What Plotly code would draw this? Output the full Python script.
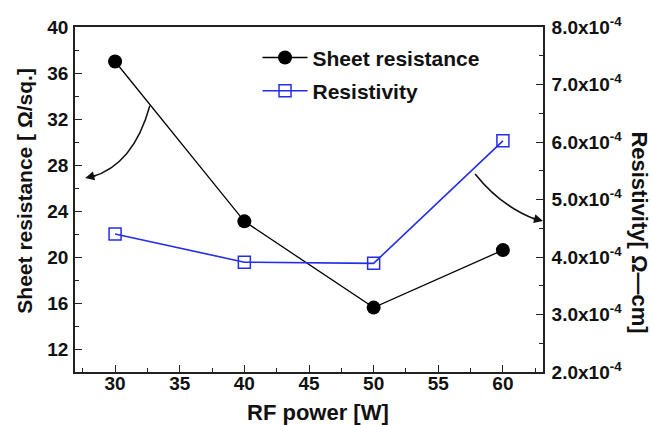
import plotly.graph_objects as go

# RF power sweep
rf_power = [30, 40, 50, 60]
sheet_resistance = [37.0, 23.1, 15.6, 20.6]          # Ω/sq.
resistivity = [4.40e-4, 3.91e-4, 3.89e-4, 6.02e-4]   # Ω-cm

left_ticks = [12, 16, 20, 24, 28, 32, 36, 40]
right_ticks = [2e-4, 3e-4, 4e-4, 5e-4, 6e-4, 7e-4, 8e-4]
right_ticktext = ["%.1fx10<sup>-4</sup>" % (v * 1e4) for v in right_ticks]

FONT = "Liberation Sans, Arial, sans-serif"
BLUE = "rgb(35,45,235)"
INK = "#111"

fig = go.Figure()
fig.add_trace(go.Scatter(
    x=rf_power, y=sheet_resistance, name="Sheet resistance",
    legendgroup="rs", mode="lines+markers",
    line=dict(color="black", width=1.3),
    marker=dict(symbol="circle", size=14, color="black"),
))
fig.add_trace(go.Scatter(
    x=rf_power, y=resistivity, name="Resistivity", yaxis="y2",
    legendgroup="rho", mode="lines+markers",
    line=dict(color=BLUE, width=1.6),
    marker=dict(symbol="square-open", size=12, color=BLUE, line=dict(width=1.5)),
))

axis_common = dict(
    showline=True, linecolor="#222", linewidth=1.6,
    ticks="inside", ticklen=7, tickwidth=1.3, tickcolor="#222",
    showgrid=False, zeroline=False,
    tickfont=dict(family=FONT, size=19, color=INK, weight="bold"),
)

fig.update_layout(
    width=651, height=425,
    margin=dict(l=75, r=108, t=27, b=53),
    paper_bgcolor="white", plot_bgcolor="white",
    showlegend=True,
    legend=dict(
        x=0.39, y=0.97, xanchor="left", yanchor="top",
        bgcolor="rgba(0,0,0,0)", tracegroupgap=3,
        font=dict(family=FONT, size=21, color=INK, weight="bold"),
        itemwidth=45,
    ),
    xaxis=dict(
        range=[26.9, 63.1], dtick=5, tick0=0, mirror=True,
        ticklabelstandoff=-7,
        minor=dict(dtick=2.5, ticklen=4, ticks="inside", tickcolor="#222"),
        **axis_common,
    ),
    yaxis=dict(
        range=[10, 40], tickvals=left_ticks, ticklabelstandoff=1,
        minor=dict(dtick=2, ticklen=4, ticks="inside", tickcolor="#222"),
        **axis_common,
    ),
    yaxis2=dict(
        overlaying="y", side="right", anchor="x",
        range=[2e-4, 8e-4], tickvals=right_ticks, ticktext=right_ticktext,
        ticklabelstandoff=3,
        minor=dict(dtick=0.5e-4, ticklen=4, ticks="inside", tickcolor="#222"),
        **axis_common,
    ),
)

# axis titles
fig.add_annotation(
    text="RF power [W]", xref="paper", yref="paper", x=0.52, y=-0.118,
    showarrow=False, yanchor="middle",
    font=dict(family=FONT, size=22, color=INK, weight="bold"),
)
fig.add_annotation(
    text="Sheet resistance [ Ω/sq.]", xref="paper", yref="paper",
    x=-0.108, y=0.527, showarrow=False, textangle=-90,
    xanchor="center", yanchor="middle",
    font=dict(family=FONT, size=21, color=INK, weight="bold"),
)
fig.add_annotation(
    text="Resistivity[ Ω—cm]", xref="paper", yref="paper",
    x=1.207, y=0.405, showarrow=False, textangle=90,
    xanchor="center", yanchor="middle",
    font=dict(family=FONT, size=22, color=INK, weight="bold"),
)

# curved pointer arrows
fig.add_shape(
    type="path", xref="paper", yref="paper",
    path="M 0.160 0.772 Q 0.125 0.60 0.035 0.565",
    line=dict(color=INK, width=1.6),
)
fig.add_annotation(
    xref="paper", yref="paper", x=0.022, y=0.562, ax=12, ay=-3,
    text="", showarrow=True, arrowhead=2, arrowsize=1.2, arrowwidth=1.5,
    arrowcolor=INK,
)
fig.add_shape(
    type="path", xref="paper", yref="paper",
    path="M 0.855 0.574 Q 0.91 0.48 0.985 0.442",
    line=dict(color=INK, width=1.6),
)
fig.add_annotation(
    xref="paper", yref="paper", x=1.0, y=0.438, ax=-12, ay=-3,
    text="", showarrow=True, arrowhead=2, arrowsize=1.2, arrowwidth=1.5,
    arrowcolor=INK,
)

fig.write_html("out.html")
